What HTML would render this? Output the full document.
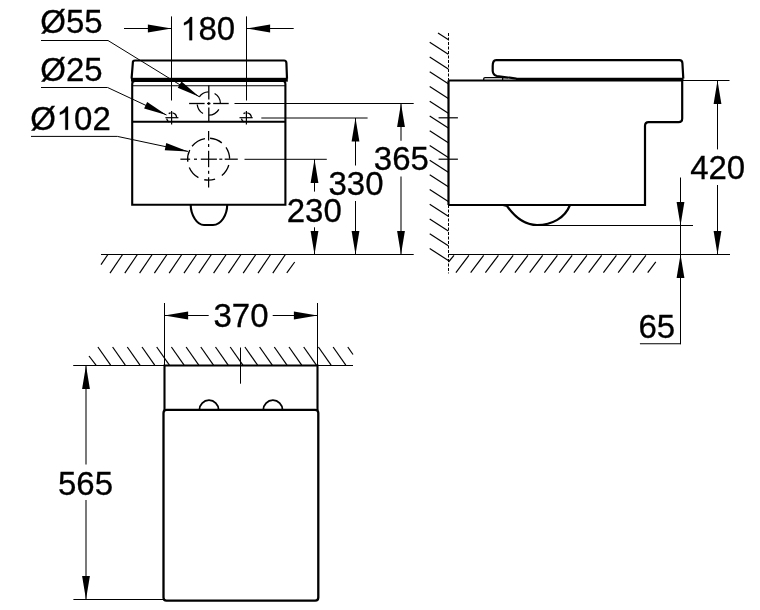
<!DOCTYPE html>
<html><head><meta charset="utf-8"><style>
html,body{margin:0;padding:0;background:#fff;overflow:hidden}
svg{display:block;will-change:transform}
text{font-family:"Liberation Sans",sans-serif;fill:#000}
</style></head><body>
<svg width="760" height="610" viewBox="0 0 760 610" stroke="#000" stroke-linecap="butt">
<rect width="760" height="610" fill="#fff" stroke="none"/>
<text x="40.35" y="33.1" font-size="33" stroke="#000" stroke-width="0.3">Ø55</text>
<text x="40.25" y="80.6" font-size="33" stroke="#000" stroke-width="0.3">Ø25</text>
<text x="30.25" y="129.7" font-size="33" stroke="#000" stroke-width="0.3">Ø</text>
<path d="M68.0,106.6 L68.0,129.7 L65.3,129.7 L65.3,112.1 C63.8,113.29999999999998 62.0,114.19999999999999 59.9,114.79999999999998 L59.9,112.29999999999998 C62.5,111.19999999999999 65.0,109.19999999999999 66.2,106.6 Z" fill="#000" stroke="#000" stroke-width="0.3"/>
<text x="74.05" y="129.7" font-size="33" stroke="#000" stroke-width="0.3">02</text>
<path d="M192.1,17.049999999999997 L192.1,40.15 L189.4,40.15 L189.4,22.549999999999997 C187.9,23.75 186.1,24.65 184.0,25.25 L184.0,22.75 C186.6,21.65 189.1,19.65 190.29999999999998,17.049999999999997 Z" fill="#000" stroke="#000" stroke-width="0.3"/>
<text x="198.5" y="40.15" font-size="33" stroke="#000" stroke-width="0.3">80</text>
<line x1="41" y1="40.5" x2="108" y2="40.5" stroke-width="1" />
<line x1="108" y1="40.5" x2="199.2" y2="96.7" stroke-width="1" />
<polygon points="199.20,96.70 177.73,87.70 181.51,81.57" stroke="none" fill="#000"/>
<line x1="41" y1="87.5" x2="107.6" y2="87.5" stroke-width="1" />
<line x1="107.6" y1="87.5" x2="166.5" y2="115" stroke-width="1" />
<polygon points="166.50,115.00 144.14,108.53 147.18,102.01" stroke="none" fill="#000"/>
<line x1="31" y1="136.4" x2="117.4" y2="136.4" stroke-width="1" />
<line x1="117.4" y1="136.4" x2="188" y2="151.4" stroke-width="1" />
<polygon points="188.00,151.40 164.75,150.14 166.25,143.10" stroke="none" fill="#000"/>
<line x1="171.5" y1="16.4" x2="171.5" y2="100.5" stroke-width="1" />
<line x1="246.5" y1="16.4" x2="246.5" y2="100.5" stroke-width="1" />
<line x1="124" y1="28.5" x2="171.5" y2="28.5" stroke-width="1" />
<polygon points="171.50,28.50 147.90,32.40 147.90,24.60" stroke="none" fill="#000"/>
<line x1="293.7" y1="28.5" x2="246.5" y2="28.5" stroke-width="1" />
<polygon points="246.50,28.50 270.10,24.60 270.10,32.40" stroke="none" fill="#000"/>
<path d="M131.6,78.5 L132.9,62 Q133.1,60.5 135,60.5 L284,60.5 Q286.3,60.5 286.4,63 L287,78.5" stroke-width="2.2" fill="none" />
<rect x="131" y="77.8" width="156.8" height="3.9" stroke="none" fill="#000"/>
<path d="M132.2,204.8 L132.2,84 Q132.2,81 135,81 L283,81 Q285.4,81 285.4,84 L285.4,204.8 Z" stroke-width="2.1" fill="none" />
<line x1="132.5" y1="85.7" x2="285" y2="85.7" stroke-width="1.1" />
<line x1="132.2" y1="121.8" x2="285.4" y2="121.8" stroke-width="2.1" />
<path d="M208.40,91.91 A11.6,11.6 0 0 0 199.30,96.85 M197.24,104.51 A11.6,11.6 0 0 0 203.00,113.55 M208.80,115.10 A11.6,11.6 0 0 0 218.85,109.30 M220.40,103.50 A11.6,11.6 0 0 0 214.60,93.45 " stroke-width="1.3" fill="none" />
<line x1="189.1" y1="103.5" x2="204.6" y2="103.5" stroke-width="1.3" />
<line x1="207" y1="103.5" x2="210.5" y2="103.5" stroke-width="1.3" />
<line x1="213.2" y1="103.5" x2="228.7" y2="103.5" stroke-width="1.3" />
<line x1="208.8" y1="85.5" x2="208.8" y2="99.5" stroke-width="1.3" />
<line x1="208.8" y1="102" x2="208.8" y2="105" stroke-width="1.3" />
<line x1="208.8" y1="107.4" x2="208.8" y2="121.5" stroke-width="1.3" />
<line x1="234.5" y1="103.5" x2="413.7" y2="103.5" stroke-width="1" />
<path d="M170.73,112.78 A5,5 0 0 0 168.73,113.60 M176.60,117.70 A5,5 0 0 0 172.47,112.78 M166.68,118.57 A5,5 0 0 0 169.10,122.03 " stroke-width="1.3" fill="none" />
<line x1="165.4" y1="117.7" x2="178.4" y2="117.7" stroke-width="1.2" />
<line x1="171.6" y1="111" x2="171.6" y2="124.5" stroke-width="1.2" />
<path d="M245.53,112.78 A5,5 0 0 0 243.53,113.60 M251.40,117.70 A5,5 0 0 0 247.27,112.78 M241.48,118.57 A5,5 0 0 0 243.90,122.03 " stroke-width="1.3" fill="none" />
<line x1="239.5" y1="117.7" x2="252.7" y2="117.7" stroke-width="1.2" />
<line x1="246.4" y1="111" x2="246.4" y2="124.5" stroke-width="1.2" />
<line x1="261.3" y1="118" x2="367.6" y2="118" stroke-width="1" />
<path d="M229.60,158.83 A21,21 0 0 0 226.01,147.46 M221.82,142.88 A21,21 0 0 0 210.06,138.25 M204.95,138.52 A21,21 0 0 0 192.05,146.27 M189.73,149.99 A21,21 0 0 0 187.76,161.76 M189.27,167.41 A21,21 0 0 0 198.42,177.57 M204.23,179.74 A21,21 0 0 0 215.09,179.17 M221.82,175.52 A21,21 0 0 0 228.79,164.99 " stroke-width="1.3" fill="none" />
<line x1="180.4" y1="159.2" x2="190.1" y2="159.2" stroke-width="1.25" />
<line x1="194" y1="159.2" x2="197" y2="159.2" stroke-width="1.25" />
<line x1="200.8" y1="159.2" x2="216.9" y2="159.2" stroke-width="1.25" />
<line x1="219.3" y1="159.2" x2="222.3" y2="159.2" stroke-width="1.25" />
<line x1="224.7" y1="159.2" x2="237.8" y2="159.2" stroke-width="1.25" />
<line x1="208.6" y1="131" x2="208.6" y2="140.5" stroke-width="1.25" />
<line x1="208.6" y1="144" x2="208.6" y2="147" stroke-width="1.25" />
<line x1="208.6" y1="150.8" x2="208.6" y2="167.2" stroke-width="1.25" />
<line x1="208.6" y1="170.8" x2="208.6" y2="173.8" stroke-width="1.25" />
<line x1="208.6" y1="177.3" x2="208.6" y2="187.5" stroke-width="1.25" />
<line x1="244.5" y1="159.3" x2="326.8" y2="159.3" stroke-width="1" />
<path d="M190.7,204.8 C190.7,215 197,225 204,225 L213,225 C221,225 227.2,215 227.2,204.8" stroke-width="2.1" fill="none" />
<line x1="101" y1="254.5" x2="413.7" y2="254.5" stroke-width="1.2" />
<line x1="110.0" y1="273.2" x2="122.6" y2="254.5" stroke-width="1.2" />
<line x1="124.8" y1="273.2" x2="137.4" y2="254.5" stroke-width="1.2" />
<line x1="139.6" y1="273.2" x2="152.2" y2="254.5" stroke-width="1.2" />
<line x1="154.4" y1="273.2" x2="167.0" y2="254.5" stroke-width="1.2" />
<line x1="169.2" y1="273.2" x2="181.79999999999998" y2="254.5" stroke-width="1.2" />
<line x1="184.0" y1="273.2" x2="196.6" y2="254.5" stroke-width="1.2" />
<line x1="198.8" y1="273.2" x2="211.4" y2="254.5" stroke-width="1.2" />
<line x1="213.60000000000002" y1="273.2" x2="226.20000000000002" y2="254.5" stroke-width="1.2" />
<line x1="228.4" y1="273.2" x2="241.0" y2="254.5" stroke-width="1.2" />
<line x1="243.20000000000002" y1="273.2" x2="255.8" y2="254.5" stroke-width="1.2" />
<line x1="258.0" y1="273.2" x2="270.6" y2="254.5" stroke-width="1.2" />
<line x1="272.8" y1="273.2" x2="285.40000000000003" y2="254.5" stroke-width="1.2" />
<line x1="101" y1="264.7" x2="107.9" y2="254.5" stroke-width="1.2" />
<line x1="286.8" y1="272.8" x2="294.7" y2="262" stroke-width="1.2" />
<text x="286.75" y="221.6" font-size="33" stroke="#000" stroke-width="0.3">230</text>
<text x="328.45" y="195.3" font-size="33" stroke="#000" stroke-width="0.3">330</text>
<text x="373.8" y="169.9" font-size="33" stroke="#000" stroke-width="0.3">365</text>
<line x1="314.5" y1="159.3" x2="314.5" y2="191.6" stroke-width="1.05" />
<line x1="314.5" y1="227.3" x2="314.5" y2="254.5" stroke-width="1.05" />
<polygon points="314.50,159.30 318.40,182.90 310.60,182.90" stroke="none" fill="#000"/>
<polygon points="314.50,254.50 310.60,230.90 318.40,230.90" stroke="none" fill="#000"/>
<line x1="355.5" y1="118" x2="355.5" y2="165.5" stroke-width="1.05" />
<line x1="355.5" y1="201" x2="355.5" y2="254.5" stroke-width="1.05" />
<polygon points="355.50,118.00 359.40,141.60 351.60,141.60" stroke="none" fill="#000"/>
<polygon points="355.50,254.50 351.60,230.90 359.40,230.90" stroke="none" fill="#000"/>
<line x1="401" y1="103.5" x2="401" y2="140.7" stroke-width="1.05" />
<line x1="401" y1="176.6" x2="401" y2="254.5" stroke-width="1.05" />
<polygon points="401.00,103.50 404.90,127.10 397.10,127.10" stroke="none" fill="#000"/>
<polygon points="401.00,254.50 397.10,230.90 404.90,230.90" stroke="none" fill="#000"/>
<line x1="448.5" y1="33" x2="448.5" y2="80.5" stroke-width="1" stroke-dasharray="3 1.5"/>
<line x1="448.5" y1="80.5" x2="448.5" y2="205" stroke-width="2.2" />
<line x1="448.5" y1="205" x2="448.5" y2="273.4" stroke-width="1" stroke-dasharray="3 1.5"/>
<line x1="438" y1="33" x2="448.5" y2="39.7" stroke-width="1.2" />
<line x1="429.7" y1="42.3" x2="448.3" y2="54.3" stroke-width="1.2" />
<line x1="429.7" y1="57.03" x2="448.3" y2="69.03" stroke-width="1.2" />
<line x1="429.7" y1="71.75999999999999" x2="448.3" y2="83.75999999999999" stroke-width="1.2" />
<line x1="429.7" y1="86.49" x2="448.3" y2="98.49" stroke-width="1.2" />
<line x1="429.7" y1="101.22" x2="448.3" y2="113.22" stroke-width="1.2" />
<line x1="429.7" y1="115.95" x2="448.3" y2="127.95" stroke-width="1.2" />
<line x1="429.7" y1="130.68" x2="448.3" y2="142.68" stroke-width="1.2" />
<line x1="429.7" y1="145.41" x2="448.3" y2="157.41" stroke-width="1.2" />
<line x1="429.7" y1="160.14" x2="448.3" y2="172.14" stroke-width="1.2" />
<line x1="429.7" y1="174.87" x2="448.3" y2="186.87" stroke-width="1.2" />
<line x1="429.7" y1="189.60000000000002" x2="448.3" y2="201.60000000000002" stroke-width="1.2" />
<line x1="429.7" y1="204.32999999999998" x2="448.3" y2="216.32999999999998" stroke-width="1.2" />
<line x1="429.7" y1="219.06" x2="448.3" y2="231.06" stroke-width="1.2" />
<line x1="429.7" y1="233.79000000000002" x2="448.3" y2="245.79000000000002" stroke-width="1.2" />
<line x1="429.7" y1="248.51999999999998" x2="448.3" y2="260.52" stroke-width="1.2" />
<path d="M448.5,80.5 H682.2 V118.5 Q682.2,122.1 678.6,122.1 H648.6 Q645,122.1 645,125.7 V205 H448.5" stroke-width="2.2" fill="none" />
<path d="M496,60.2 H679.5 Q682.2,60.2 682.4,63 L683.3,78.5 M496,60.2 Q492.7,60.4 492.7,66 L492.7,71 Q493,75 497,76 L516.3,78.6" stroke-width="2.2" fill="none" />
<line x1="516" y1="79.3" x2="683.5" y2="79.3" stroke-width="3" />
<path d="M483.7,80.5 V78.8 Q483.7,77.6 485,77.6 H502.6 V80 M502.6,77.9 H508" stroke-width="1.3" fill="none" />
<line x1="438.6" y1="117.8" x2="457.9" y2="117.8" stroke-width="1.2" />
<line x1="438.6" y1="159.2" x2="457.9" y2="159.2" stroke-width="1.2" />
<path d="M503,205 L507,206 C517,220 527,225 537,225 C552,225 565,218 570,205" stroke-width="2.2" fill="none" />
<line x1="533" y1="225.5" x2="693" y2="225.5" stroke-width="1" />
<line x1="448.5" y1="254.5" x2="730" y2="254.5" stroke-width="1.2" />
<line x1="448.5" y1="262" x2="454" y2="255.4" stroke-width="1.2" />
<line x1="455.9" y1="272.6" x2="468.9" y2="255.4" stroke-width="1.2" />
<line x1="470.65" y1="272.6" x2="483.65" y2="255.4" stroke-width="1.2" />
<line x1="485.4" y1="272.6" x2="498.4" y2="255.4" stroke-width="1.2" />
<line x1="500.15" y1="272.6" x2="513.15" y2="255.4" stroke-width="1.2" />
<line x1="514.9" y1="272.6" x2="527.9" y2="255.4" stroke-width="1.2" />
<line x1="529.65" y1="272.6" x2="542.65" y2="255.4" stroke-width="1.2" />
<line x1="544.4" y1="272.6" x2="557.4" y2="255.4" stroke-width="1.2" />
<line x1="559.15" y1="272.6" x2="572.15" y2="255.4" stroke-width="1.2" />
<line x1="573.9" y1="272.6" x2="586.9" y2="255.4" stroke-width="1.2" />
<line x1="588.65" y1="272.6" x2="601.65" y2="255.4" stroke-width="1.2" />
<line x1="603.4" y1="272.6" x2="616.4" y2="255.4" stroke-width="1.2" />
<line x1="618.15" y1="272.6" x2="631.15" y2="255.4" stroke-width="1.2" />
<line x1="632.9" y1="272.6" x2="645.9" y2="255.4" stroke-width="1.2" />
<line x1="647.7" y1="272.6" x2="655.8" y2="261.8" stroke-width="1.2" />
<line x1="682" y1="80.5" x2="729.5" y2="80.5" stroke-width="1" />
<text x="690.15" y="179.2" font-size="33" stroke="#000" stroke-width="0.3">420</text>
<line x1="717.5" y1="80.5" x2="717.5" y2="149.4" stroke-width="1.05" />
<line x1="717.5" y1="185" x2="717.5" y2="254.5" stroke-width="1.05" />
<polygon points="717.50,80.50 721.40,104.10 713.60,104.10" stroke="none" fill="#000"/>
<polygon points="717.50,254.50 713.60,230.90 721.40,230.90" stroke="none" fill="#000"/>
<line x1="680.5" y1="177.5" x2="680.5" y2="344.3" stroke-width="1.05" />
<polygon points="680.50,225.50 676.60,201.90 684.40,201.90" stroke="none" fill="#000"/>
<polygon points="680.50,254.50 684.40,278.10 676.60,278.10" stroke="none" fill="#000"/>
<line x1="639.9" y1="343.8" x2="680.5" y2="343.8" stroke-width="1.1" />
<text x="638.5" y="337.9" font-size="33" stroke="#000" stroke-width="0.3">65</text>
<line x1="73.2" y1="365.5" x2="353" y2="365.5" stroke-width="1.2" />
<line x1="97.9" y1="347" x2="110.60000000000001" y2="365.2" stroke-width="1.2" />
<line x1="112.60000000000001" y1="347" x2="125.30000000000001" y2="365.2" stroke-width="1.2" />
<line x1="127.30000000000001" y1="347" x2="140.0" y2="365.2" stroke-width="1.2" />
<line x1="142.0" y1="347" x2="154.7" y2="365.2" stroke-width="1.2" />
<line x1="156.7" y1="347" x2="169.39999999999998" y2="365.2" stroke-width="1.2" />
<line x1="171.4" y1="347" x2="184.1" y2="365.2" stroke-width="1.2" />
<line x1="186.1" y1="347" x2="198.79999999999998" y2="365.2" stroke-width="1.2" />
<line x1="200.8" y1="347" x2="213.5" y2="365.2" stroke-width="1.2" />
<line x1="215.5" y1="347" x2="228.2" y2="365.2" stroke-width="1.2" />
<line x1="230.2" y1="347" x2="242.89999999999998" y2="365.2" stroke-width="1.2" />
<line x1="244.9" y1="347" x2="257.6" y2="365.2" stroke-width="1.2" />
<line x1="259.6" y1="347" x2="272.3" y2="365.2" stroke-width="1.2" />
<line x1="274.29999999999995" y1="347" x2="286.99999999999994" y2="365.2" stroke-width="1.2" />
<line x1="289.0" y1="347" x2="301.7" y2="365.2" stroke-width="1.2" />
<line x1="303.7" y1="347" x2="316.4" y2="365.2" stroke-width="1.2" />
<line x1="318.4" y1="347" x2="331.09999999999997" y2="365.2" stroke-width="1.2" />
<line x1="333.1" y1="347" x2="345.8" y2="365.2" stroke-width="1.2" />
<line x1="347.8" y1="347" x2="353" y2="354.5" stroke-width="1.2" />
<line x1="89" y1="356" x2="96" y2="365.2" stroke-width="1.2" />
<line x1="164.5" y1="303" x2="164.5" y2="365.5" stroke-width="1" />
<line x1="317.5" y1="303" x2="317.5" y2="365.5" stroke-width="1" />
<line x1="164.5" y1="315.5" x2="208.7" y2="315.5" stroke-width="1" />
<polygon points="164.50,315.50 188.10,311.60 188.10,319.40" stroke="none" fill="#000"/>
<line x1="272.7" y1="315.5" x2="317.5" y2="315.5" stroke-width="1" />
<polygon points="317.50,315.50 293.90,319.40 293.90,311.60" stroke="none" fill="#000"/>
<text x="213.45" y="326.7" font-size="33" stroke="#000" stroke-width="0.3">370</text>
<line x1="240.5" y1="347.5" x2="240.5" y2="383.7" stroke-width="1" />
<path d="M164.5,410 V365.5 H317.5 V410" stroke-width="2.1" fill="none" />
<path d="M199.4,409.8 A9.6,9.6 0 0 1 218.6,409.8 M263.3,409.8 A9.6,9.6 0 0 1 282.5,409.8" stroke-width="1.8" fill="none" />
<path d="M163.5,413 Q163.5,409.8 166.5,409.8 H315.2 Q318.3,409.8 318.3,413 V597.5 Q318.3,600.6 315.2,600.6 H166.5 Q163.5,600.6 163.5,597.5 Z" stroke-width="2.3" fill="none" />
<line x1="73.4" y1="599.5" x2="164" y2="599.5" stroke-width="1.2" />
<line x1="86" y1="365.5" x2="86" y2="464.5" stroke-width="1.05" />
<line x1="86" y1="500" x2="86" y2="599.5" stroke-width="1.05" />
<polygon points="86.00,365.50 89.90,389.10 82.10,389.10" stroke="none" fill="#000"/>
<polygon points="86.00,599.50 82.10,575.90 89.90,575.90" stroke="none" fill="#000"/>
<text x="58" y="495" font-size="33" stroke="#000" stroke-width="0.3">565</text>
</svg></body></html>
